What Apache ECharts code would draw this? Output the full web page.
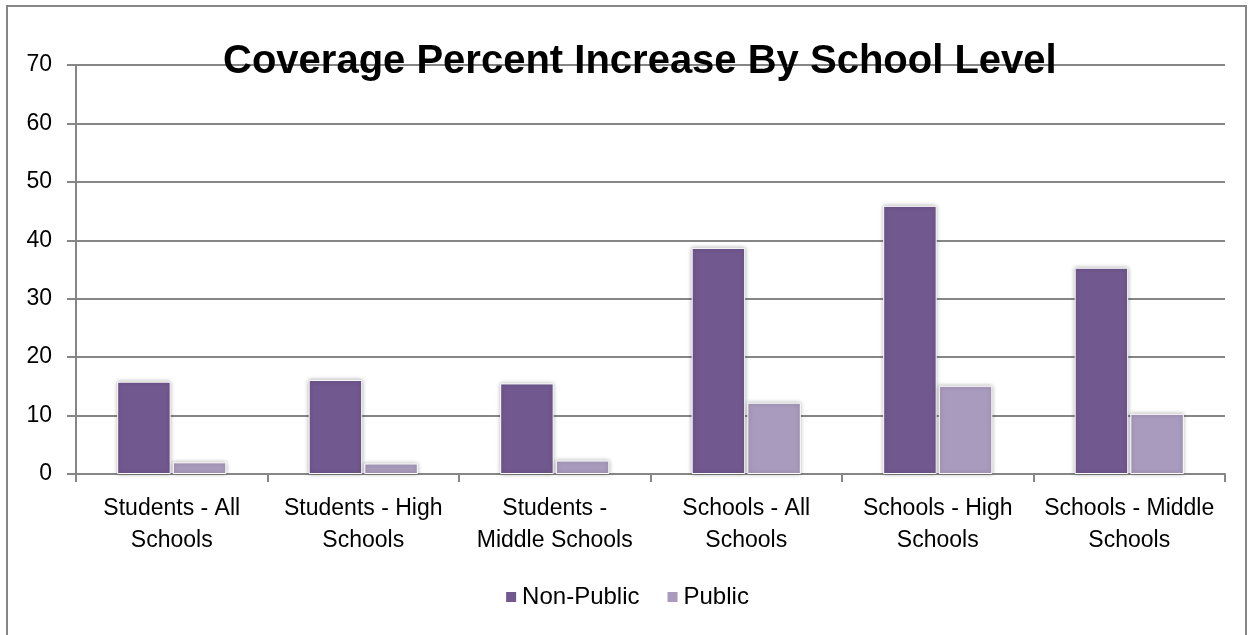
<!DOCTYPE html>
<html><head><meta charset="utf-8">
<script src="https://cdn.jsdelivr.net/npm/echarts@6/dist/echarts.min.js"></script>
<style>html,body{margin:0;padding:0;background:#fff}#c{width:1253px;height:635px}</style>
</head><body><div id="c"></div>
<script>
const categories = ["Students - All\nSchools", "Students - High\nSchools", "Students -\nMiddle Schools", "Schools - All\nSchools", "Schools - High\nSchools", "Schools - Middle\nSchools"];
const nonPublic = [15.8, 16.1, 15.5, 38.7, 45.9, 35.3];
const publicVals = [2.0, 1.8, 2.3, 12.2, 15.1, 10.3];
const seriesNames = ["Non-Public", "Public"];
const titleText = "Coverage Percent Increase By School Level";

const FONT = "Liberation Sans";
const chart = echarts.init(document.getElementById('c'));
chart.setOption({
  animation: false,
  backgroundColor: '#fff',
  graphic: [{type: 'rect', shape: {x: 7, y: 6, width: 1239, height: 650}, style: {fill: 'none', stroke: '#868686', lineWidth: 2}, z: -1}],
  title: {text: titleText, left: 218, top: 37, z: 10, textStyle: {fontFamily: FONT, fontWeight: 'bold', fontSize: 40, color: '#000'}},
  legend: {bottom: 21, left: 'center', itemWidth: 12, itemHeight: 12, itemGap: 26, icon: 'rect',
    textStyle: {fontFamily: FONT, fontSize: 24, color: '#000'}, data: seriesNames},
  grid: {left: 76, right: 28, top: 65, bottom: 161, containLabel: false},
  xAxis: {type: 'category', data: categories,
    axisLine: {lineStyle: {color: '#868686', width: 2}},
    axisTick: {show: true, length: 8, lineStyle: {color: '#868686', width: 2}},
    axisLabel: {fontFamily: FONT, fontSize: 23, color: '#000', margin: 19, lineHeight: 32, interval: 0}},
  yAxis: {type: 'value', min: 0, max: 70, interval: 10,
    axisLine: {show: true, lineStyle: {color: '#868686', width: 2}},
    axisTick: {show: true, length: 9, lineStyle: {color: '#868686', width: 2}},
    splitLine: {lineStyle: {color: '#868686', width: 2}},
    axisLabel: {fontFamily: FONT, fontSize: 23, color: '#000', margin: 24}},
  series: [
    {name: seriesNames[0], type: 'bar', data: nonPublic, barGap: '4%', barCategoryGap: '43%',
      itemStyle: {color: '#71588F', borderColor: '#fff', borderWidth: 1, shadowColor: 'rgba(0,0,0,0.3)', shadowBlur: 4}},
    {name: seriesNames[1], type: 'bar', data: publicVals, barGap: '4%', barCategoryGap: '43%',
      itemStyle: {color: '#A99BBD', borderColor: '#fff', borderWidth: 1, shadowColor: 'rgba(0,0,0,0.3)', shadowBlur: 4}}
  ]
});
</script></body></html>
